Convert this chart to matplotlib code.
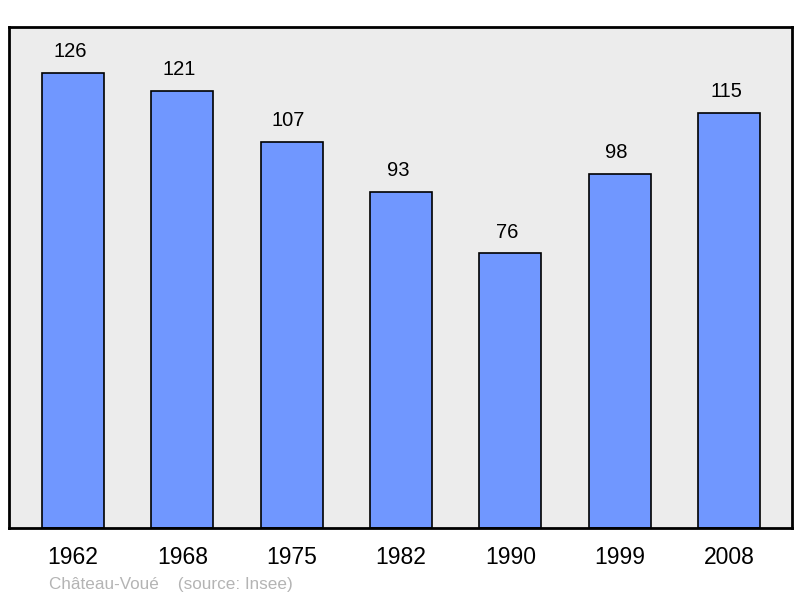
import matplotlib
matplotlib.use("Agg")
import matplotlib.pyplot as plt
from matplotlib.transforms import offset_copy

plt.rcParams['font.family'] = ['Liberation Sans', 'DejaVu Sans']

annees = ['1962', '1968', '1975', '1982', '1990', '1999', '2008']
population = [126, 121, 107, 93, 76, 98, 115]

fig = plt.figure(figsize=(8, 5.98), dpi=100)
ax = fig.add_axes([9 / 800, 70 / 598, 783 / 800, 501 / 598])
ax.set_facecolor('#ececec')

x = list(range(len(annees)))
ax.bar(x, population, width=0.567, color='#7097ff', edgecolor='black', linewidth=1.2, zorder=2)
decale = offset_copy(ax.transData, fig=fig, x=-3, y=0, units='dots')
for xi, v in zip(x, population):
    ax.text(xi, v + 3.3, str(v), ha='center', va='bottom', fontsize=14.5, transform=decale)

ax.set_xlim(-0.585, 6.576)
ax.set_ylim(0, 138.7)
ax.set_yticks([])
ax.set_xticks(x)
ax.set_xticklabels(annees, fontsize=16.5)
ax.tick_params(axis='x', length=0, pad=13)
for s in ax.spines.values():
    s.set_linewidth(2)

fig.text(49 / 800, 1 - 584 / 598, 'Château-Voué    (source: Insee)', color='#b4b4b4',
         fontsize=12.3, va='center', ha='left')

fig.savefig('out.png', dpi=100)
